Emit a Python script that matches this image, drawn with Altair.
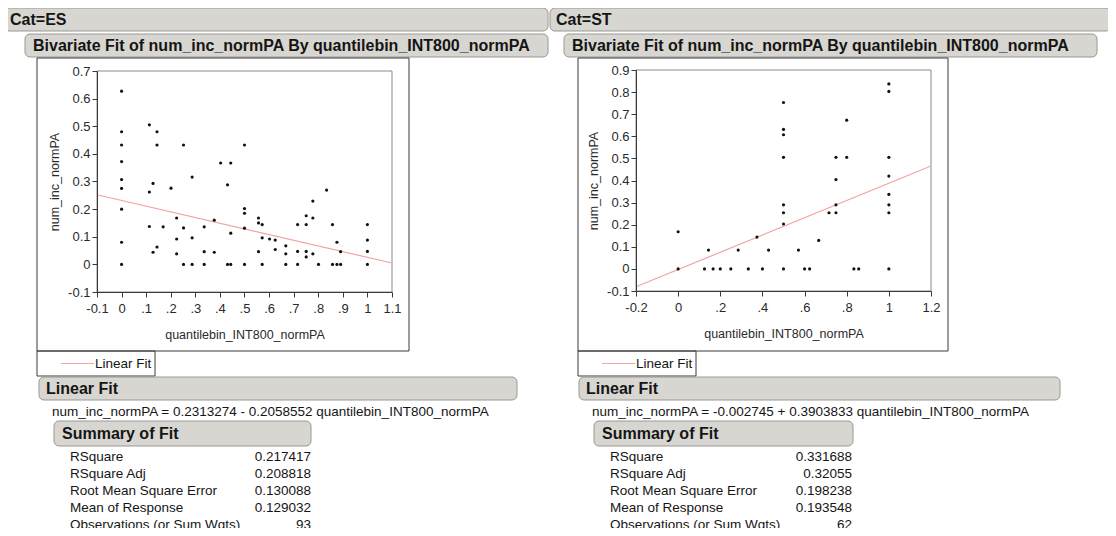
import json
import altair as alt
import pandas as pd

# ---------------- data ----------------
ES_X = [0, 0, 0, 0, 0, 0, 0, 0, 0,
        0.113, 0.113, 0.113,
        0.128, 0.128,
        0.144, 0.144, 0.144,
        0.169,
        0.201,
        0.224, 0.224, 0.224,
        0.252, 0.252, 0.252,
        0.287, 0.287, 0.287,
        0.336, 0.336, 0.336,
        0.377, 0.377,
        0.403,
        0.431, 0.431,
        0.444, 0.444, 0.444,
        0.5, 0.5, 0.5, 0.5, 0.5,
        0.557, 0.557, 0.557,
        0.572, 0.572, 0.572,
        0.602,
        0.625, 0.625,
        0.668, 0.668, 0.668,
        0.716, 0.716, 0.716,
        0.751, 0.751, 0.751, 0.751,
        0.778, 0.778, 0.778,
        0.801,
        0.834,
        0.858, 0.858,
        0.876, 0.876,
        0.891, 0.891,
        1, 1, 1, 1]
ES_Y = [0.627, 0.48, 0.432, 0.372, 0.307, 0.275, 0.2, 0.08, 0,
        0.505, 0.262, 0.137,
        0.293, 0.044,
        0.48, 0.432, 0.063,
        0.136,
        0.276,
        0.168, 0.092, 0.038,
        0.432, 0.132, 0,
        0.316, 0.096, 0,
        0.136, 0.046, 0,
        0.16, 0.044,
        0.367,
        0.288, 0,
        0.367, 0.113, 0,
        0.432, 0.202, 0.185, 0.131, 0,
        0.168, 0.15, 0.046,
        0.144, 0.096, 0,
        0.092,
        0.088, 0.054,
        0.067, 0.038, 0,
        0.144, 0.047, 0,
        0.176, 0.144, 0.047, 0.027,
        0.229, 0.168, 0.038,
        0,
        0.269,
        0.144, 0,
        0.08, 0,
        0.046, 0,
        0.144, 0.088, 0.047, 0]

ST_X = [0, 0,
        0.125, 0.144, 0.166, 0.2, 0.25, 0.285, 0.333, 0.374, 0.4, 0.429,
        0.5, 0.5, 0.5, 0.5, 0.5, 0.5, 0.5, 0.5,
        0.571,
        0.6, 0.624,
        0.667,
        0.716,
        0.749, 0.749, 0.749, 0.749,
        0.8, 0.8,
        0.834, 0.857,
        1, 1, 1, 1, 1, 1, 1, 1]
ST_Y = [0.168, 0,
        0, 0.085, 0, 0, 0, 0.085, 0, 0.144, 0, 0.085,
        0.753, 0.631, 0.607, 0.505, 0.29, 0.254, 0.203, 0,
        0.085,
        0, 0,
        0.129,
        0.254,
        0.505, 0.404, 0.29, 0.254,
        0.673, 0.505,
        0, 0,
        0.837, 0.803, 0.505, 0.42, 0.337, 0.29, 0.254, 0]

ES_FIT = (0.2313274, -0.2058552)
ST_FIT = (-0.002745, 0.3903833)
ES_EQ = "num_inc_normPA = 0.2313274 - 0.2058552 quantilebin_INT800_normPA"
ST_EQ = "num_inc_normPA = -0.002745 + 0.3903833 quantilebin_INT800_normPA"

SUMMARY_LABELS = ["RSquare", "RSquare Adj", "Root Mean Square Error",
                  "Mean of Response", "Observations (or Sum Wgts)"]
ES_SUMMARY = ["0.217417", "0.208818", "0.130088", "0.129032", "93"]
ST_SUMMARY = ["0.331688", "0.32055", "0.198238", "0.193548", "62"]

ES_XTICKS = [-0.1, 0, 0.1, 0.2, 0.3, 0.4, 0.5, 0.6, 0.7, 0.8, 0.9, 1.0, 1.1]
ES_XLABELS = ["-0.1", "0", ".1", ".2", ".3", ".4", ".5", ".6", ".7", ".8", ".9", "1", "1.1"]
ES_YTICKS = [-0.1, 0, 0.1, 0.2, 0.3, 0.4, 0.5, 0.6, 0.7]
ES_YLABELS = ["-0.1", "0", "0.1", "0.2", "0.3", "0.4", "0.5", "0.6", "0.7"]
ST_XTICKS = [-0.2, 0, 0.2, 0.4, 0.6, 0.8, 1.0, 1.2]
ST_XLABELS = ["-0.2", "0", ".2", ".4", ".6", ".8", "1", "1.2"]
ST_YTICKS = [-0.1, 0, 0.1, 0.2, 0.3, 0.4, 0.5, 0.6, 0.7, 0.8, 0.9]
ST_YLABELS = ["-0.1", "0", "0.1", "0.2", "0.3", "0.4", "0.5", "0.6", "0.7", "0.8", "0.9"]

X_TITLE = "quantilebin_INT800_normPA"
Y_TITLE = "num_inc_normPA"
BIV_TITLE = "Bivariate Fit of num_inc_normPA By quantilebin_INT800_normPA"

# ---------------- layout / style ----------------
FONT = "Liberation Sans"
OFF = 8          # page margin
W, H = 1100, 520
HDR_FILL = "#d8d6d1"
HDR_STROKE = "#9a9894"
FIT_COLOR = "#f2a3a3"
HDR_SIZE = 16
BODY_SIZE = 13.5
ONE = alt.Data(values=[{}])


def P(v):
    return v - OFF


def box(x0, x1, y0, y1, fill=HDR_FILL, stroke=HDR_STROKE, radius=5, sw=1):
    return alt.Chart(ONE).mark_rect(
        fill=fill, stroke=stroke, strokeWidth=sw, cornerRadius=radius
    ).encode(x=alt.value(P(x0)), x2=alt.value(P(x1)),
             y=alt.value(P(y0)), y2=alt.value(P(y1)))


def frame(x0, x1, y0, y1, stroke="#3a3a3a", sw=1):
    return alt.Chart(ONE).mark_rect(
        fillOpacity=0, fill="white", stroke=stroke, strokeWidth=sw
    ).encode(x=alt.value(P(x0)), x2=alt.value(P(x1)),
             y=alt.value(P(y0)), y2=alt.value(P(y1)))


def text(t, x, y, size=BODY_SIZE, bold=False, align="left", color="#151515"):
    return alt.Chart(ONE).mark_text(
        text=t, align=align, baseline="middle", font=FONT, fontSize=size,
        fontWeight="bold" if bold else "normal", color=color
    ).encode(x=alt.value(P(x)), y=alt.value(P(y)))


def label_expr(ticks, labels):
    start = ticks[0]
    step = round(ticks[1] - ticks[0], 6)
    return f"{json.dumps(labels)}[round((datum.value - ({start})) / {step})]"


def panel(xs, ys, fit, xticks, xlabels, yticks, ylabels, px, py):
    """px=(left,right), py=(top,bottom) of the plot area in page pixels."""
    xdom = [xticks[0], xticks[-1]]
    ydom = [yticks[0], yticks[-1]]
    xscale = alt.Scale(domain=xdom, range=[P(px[0]), P(px[1])], nice=False, zero=False)
    yscale = alt.Scale(domain=ydom, range=[P(py[1]), P(py[0])], nice=False, zero=False)
    common = dict(grid=False, domainColor="#3a3a3a", tickColor="#3a3a3a", tickSize=5,
                  labelFont=FONT, labelFontSize=13, labelColor="#2a2a2a",
                  titleFont=FONT, titleFontSize=12.5, titleFontWeight="normal",
                  titleColor="#2a2a2a", labelOverlap=False, labelFlush=False, zindex=2)
    xaxis = alt.Axis(orient="bottom", offset=P(py[1]) - H, values=xticks,
                     labelExpr=label_expr(xticks, xlabels), title=X_TITLE,
                     labelPadding=5, titlePadding=13, **common)
    yaxis = alt.Axis(orient="left", offset=-P(px[0]), values=yticks,
                     labelExpr=label_expr(yticks, ylabels), title=Y_TITLE,
                     labelPadding=2, titlePadding=6, **common)
    pts = pd.DataFrame({"x": xs, "y": ys})
    points = alt.Chart(pts).mark_circle(size=10, color="#111111", opacity=1).encode(
        x=alt.X("x:Q", scale=xscale, axis=xaxis),
        y=alt.Y("y:Q", scale=yscale, axis=yaxis),
    )
    ends = pd.DataFrame({"x": xdom})
    line = alt.Chart(ends).mark_line(color=FIT_COLOR, strokeWidth=1.2).transform_calculate(
        y=f"{fit[0]} + ({fit[1]}) * datum.x"
    ).encode(
        x=alt.X("x:Q", scale=xscale, axis=xaxis),
        y=alt.Y("y:Q", scale=yscale, axis=yaxis),
    )
    return alt.layer(line, points)


def summary(values, xl, xr, y0, y1):
    df = pd.DataFrame({"i": list(range(len(SUMMARY_LABELS))),
                       "label": SUMMARY_LABELS, "value": values})
    ysc = alt.Scale(domain=[0, len(SUMMARY_LABELS) - 1], range=[P(y0), P(y1)],
                    nice=False, zero=False)
    lab = alt.Chart(df).mark_text(align="left", baseline="middle", font=FONT,
                                  fontSize=BODY_SIZE, color="#151515").encode(
        x=alt.value(P(xl)), y=alt.Y("i:Q", scale=ysc, axis=None), text="label:N")
    val = alt.Chart(df).mark_text(align="right", baseline="middle", font=FONT,
                                  fontSize=BODY_SIZE, color="#151515").encode(
        x=alt.value(P(xr)), y=alt.Y("i:Q", scale=ysc, axis=None), text="value:N")
    return alt.layer(lab, val)


def legend(x0, x1, y0, y1):
    ym = (y0 + y1) / 2
    rule = alt.Chart(ONE).mark_rule(color=FIT_COLOR, strokeWidth=1).encode(
        x=alt.value(P(x0 + 24)), x2=alt.value(P(x0 + 57)), y=alt.value(P(ym)))
    return [frame(x0, x1, y0, y1), rule, text("Linear Fit", x0 + 58, ym)]


layers = []
# ---- ES column ----
layers += [box(3, 548, 8, 31), text("Cat=ES", 10, 20, size=HDR_SIZE, bold=True),
           box(25, 548, 34, 57), text(BIV_TITLE, 33, 46, size=HDR_SIZE, bold=True),
           frame(37, 409, 58, 351), frame(97, 392, 71, 292, stroke="#8a8a8a")]
layers += legend(37, 155, 351, 376)
layers += [box(39, 517, 377, 400), text("Linear Fit", 46, 389, size=HDR_SIZE, bold=True),
           text(ES_EQ, 52, 412),
           box(54, 311, 421, 446), text("Summary of Fit", 62, 434, size=HDR_SIZE, bold=True)]
# ---- ST column ----
layers += [box(550, 1111, 8, 31), text("Cat=ST", 556, 20, size=HDR_SIZE, bold=True),
           box(564, 1097, 34, 57), text(BIV_TITLE, 572, 46, size=HDR_SIZE, bold=True),
           frame(578, 948, 58, 351), frame(636, 931, 70, 291, stroke="#8a8a8a")]
layers += legend(578, 696, 351, 376)
layers += [box(579, 1060, 377, 400), text("Linear Fit", 586, 389, size=HDR_SIZE, bold=True),
           text(ST_EQ, 592, 412),
           box(594, 853, 421, 446), text("Summary of Fit", 602, 434, size=HDR_SIZE, bold=True)]

layers += [panel(ES_X, ES_Y, ES_FIT, ES_XTICKS, ES_XLABELS, ES_YTICKS, ES_YLABELS,
                 (97, 392), (71, 292)),
           panel(ST_X, ST_Y, ST_FIT, ST_XTICKS, ST_XLABELS, ST_YTICKS, ST_YLABELS,
                 (636, 931), (70, 291)),
           summary(ES_SUMMARY, 70, 311, 457, 525),
           summary(ST_SUMMARY, 610, 852, 457, 525)]

chart = alt.layer(*layers).resolve_scale(
    x="independent", y="independent"
).resolve_axis(
    x="independent", y="independent"
).properties(
    width=W, height=H, autosize=alt.AutoSizeParams(type="none"), padding=0,
    background="white"
).configure_view(stroke=None)

chart.save("out.html", embed_options={"renderer": "svg", "actions": False})
